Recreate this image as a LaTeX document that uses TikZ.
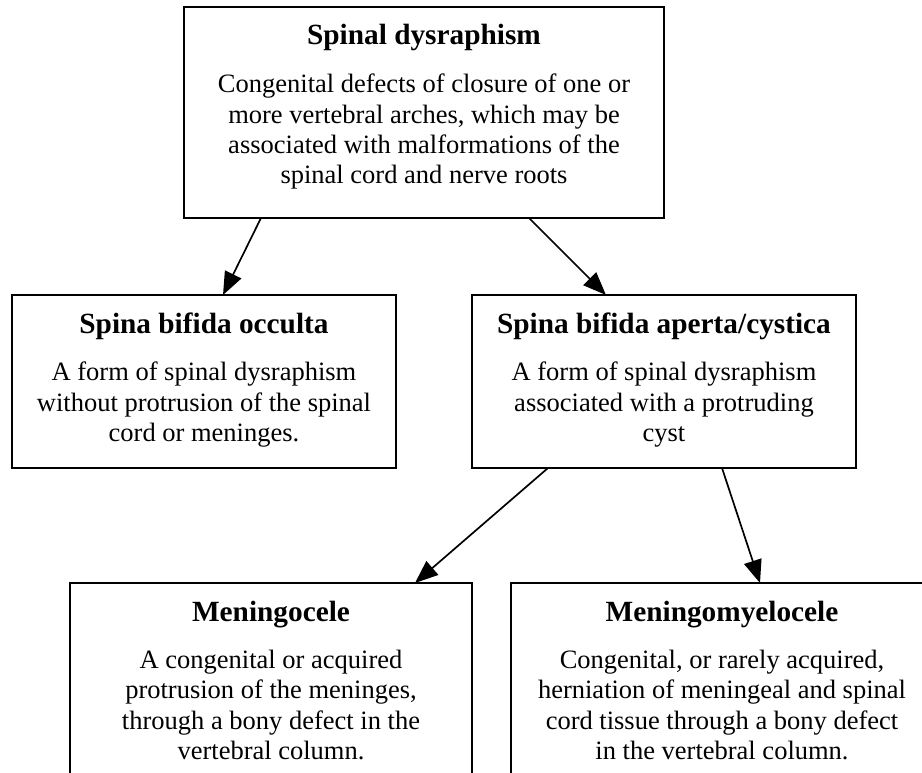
\documentclass[tikz,border=0pt]{standalone}
\usepackage{fontspec}
\setmainfont{Liberation Serif}
\usetikzlibrary{arrows.meta}
\begin{document}
\begin{tikzpicture}[x=1pt,y=-1pt,
  boxnode/.style={draw=black, line width=2pt, rectangle, anchor=north west, inner sep=0pt, outer sep=0pt},
  txtnode/.style={anchor=base, align=center, inner sep=0pt, font=\fontsize{26.5}{30.3}\selectfont},
  conn/.style={line width=1.7pt, -{Triangle[length=23pt,width=18pt]}}]
\fill[white] (0,0) rectangle (922,773);
\useasboundingbox (0,0) rectangle (922,773);
\clip (0,0) rectangle (922,773);
% boxes
\node[boxnode, minimum width=480pt, minimum height=211pt] (top) at (184,7) {};
\node[boxnode, minimum width=384pt, minimum height=173pt] (occ) at (12,295) {};
\node[boxnode, minimum width=384pt, minimum height=173pt] (ape) at (472,295) {};
\node[boxnode, minimum width=402pt, minimum height=240pt] (men) at (70,583) {};
\node[boxnode, minimum width=422pt, minimum height=240pt] (mye) at (511,583) {};
% texts
\newcommand{\ttl}[1]{{\bfseries\fontsize{29.3}{30.3}\selectfont #1}}
\node[txtnode] (toptitle) at (424,45) {\ttl{Spinal dysraphism}};
\node[txtnode, anchor=north] (topbody) at (424,74) {Congenital defects of closure of one or\\
more vertebral arches, which may be\\
associated with malformations of the\\
spinal cord and nerve roots};
\node[txtnode] (occtitle) at (204,333) {\ttl{Spina bifida occulta}};
\node[txtnode, anchor=north] (occbody) at (204,362) {A form of spinal dysraphism\\
without protrusion of the spinal\\
cord or meninges.};
\node[txtnode] (apetitle) at (664,333) {\ttl{Spina bifida aperta/cystica}};
\node[txtnode, anchor=north] (apebody) at (664,362) {A form of spinal dysraphism\\
associated with a protruding\\
cyst};
\node[txtnode] (mentitle) at (271,621) {\ttl{Meningocele}};
\node[txtnode, anchor=north] (menbody) at (271,650) {A congenital or acquired\\
protrusion of the meninges,\\
through a bony defect in the\\
vertebral column.};
\node[txtnode] (myetitle) at (722,621) {\ttl{Meningomyelocele}};
\node[txtnode, anchor=north] (myebody) at (722,650) {Congenital, or rarely acquired,\\
herniation of meningeal and spinal\\
cord tissue through a bony defect\\
in the vertebral column.};
% connectors
\draw[conn] ([xshift=77pt]top.south west) -- ([xshift=211pt]occ.north west);
\draw[conn] ([xshift=345pt]top.south west) -- ([xshift=134pt]ape.north west);
\draw[conn] ([xshift=76pt]ape.south west) -- ([xshift=345pt]men.north west);
\draw[conn] ([xshift=250pt]ape.south west) -- ([xshift=249pt]mye.north west);
\end{tikzpicture}
\end{document}
